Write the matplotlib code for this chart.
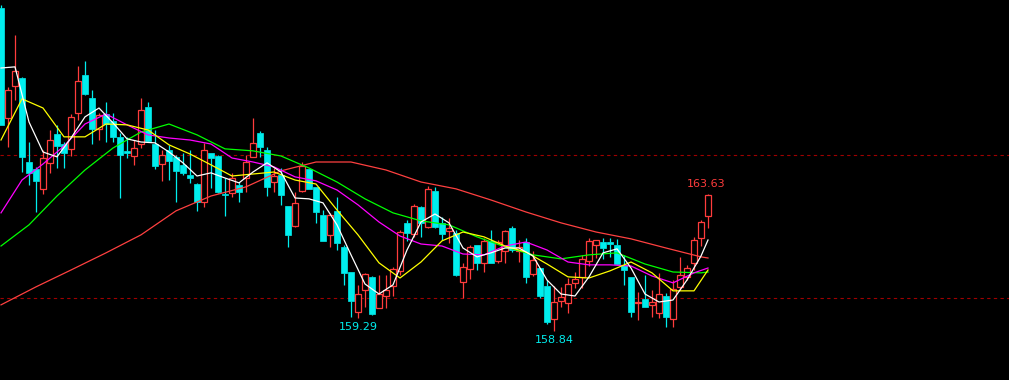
import matplotlib
matplotlib.use("Agg")
import matplotlib.pyplot as plt
import numpy as np

opens = [170.14,166.29,167.41,167.69,164.75,164.51,163.81,164.72,165.73,165.38,
         165.21,166.47,167.80,166.99,165.91,166.43,166.19,165.63,165.14,164.96,
         165.38,166.68,165.38,164.68,165.17,164.93,164.65,164.30,163.98,163.35,
         165.07,164.96,163.63,163.67,163.95,164.19,164.93,165.77,165.17,164.05,
         164.30,163.21,162.51,163.74,164.51,163.88,162.90,162.20,163.04,161.78,
         160.90,159.50,160.27,160.73,159.64,160.06,160.41,160.94,162.62,162.23,
         163.18,162.48,163.74,162.62,162.34,162.27,160.55,161.01,161.85,161.22,
         161.99,161.29,161.64,162.44,161.64,161.95,160.83,161.04,160.41,159.26,
         159.89,159.82,160.52,160.73,161.29,161.85,161.95,161.95,161.85,161.15,
         160.73,159.82,159.96,159.75,159.47,160.06,159.26,160.38,160.73,161.22,
         162.09,162.86]
highs = [170.25,167.38,169.20,167.73,165.45,164.58,165.17,165.87,166.05,165.45,
         166.43,168.11,168.29,167.27,166.47,166.85,166.47,165.77,165.63,165.52,
         166.99,166.85,165.87,165.17,165.35,165.00,165.07,165.17,164.02,165.42,
         165.07,165.00,164.19,164.37,164.05,165.00,166.29,165.84,165.28,164.54,
         164.54,163.21,163.70,164.75,164.51,163.88,163.07,162.97,163.53,161.85,
         160.90,160.45,160.87,160.76,160.80,160.80,161.08,162.37,162.72,163.28,
         163.21,163.91,163.88,162.83,162.79,162.37,161.22,161.85,161.85,162.09,
         162.37,162.02,162.37,162.51,162.02,162.09,161.64,161.04,160.62,160.41,
         160.38,160.69,160.90,161.50,162.09,162.02,162.09,162.09,162.05,161.50,
         160.73,160.20,160.80,160.27,160.87,160.17,160.62,161.43,161.15,162.13,
         162.72,163.63]
lows = [166.05,165.28,166.92,164.40,163.95,163.00,163.63,164.37,164.54,164.54,
        164.96,166.22,167.10,165.38,165.52,165.45,165.45,163.49,164.89,164.65,
        165.24,165.45,164.51,164.09,164.12,163.35,164.30,164.02,163.04,163.18,
        163.84,163.67,162.86,163.53,163.35,163.70,164.93,164.93,163.56,163.70,
        163.25,161.78,162.48,163.70,163.81,162.62,161.99,161.78,161.67,160.45,
        159.33,159.29,159.68,159.40,159.64,159.64,160.06,160.80,161.99,162.13,
        162.13,162.44,162.44,162.02,161.92,160.76,159.99,160.66,160.97,160.90,
        161.22,161.22,161.22,161.60,161.25,160.52,160.76,159.99,159.08,158.84,
        159.68,159.47,160.34,160.34,161.11,161.39,161.36,161.43,161.15,160.45,
        159.33,159.22,159.68,159.33,159.29,158.98,158.98,160.27,160.62,160.97,
        161.81,162.44]
closes = [166.05,167.27,167.94,164.93,164.37,164.09,164.89,165.52,165.31,165.07,
          166.33,167.59,167.13,165.91,166.40,166.08,165.63,165.00,165.07,165.24,
          166.57,165.49,164.61,165.00,164.79,164.44,164.37,164.19,163.35,165.17,
          164.89,163.70,163.60,164.19,163.70,164.75,165.42,165.28,163.88,164.26,
          163.60,162.20,163.32,164.61,163.81,163.00,161.99,162.90,161.92,160.87,
          159.89,160.13,160.83,159.43,160.13,160.27,161.01,162.30,162.27,163.21,
          162.62,163.81,162.48,162.23,162.44,160.80,161.08,161.78,161.22,161.99,
          161.22,161.95,162.34,161.67,161.78,160.73,161.32,160.06,159.15,159.85,
          160.03,160.48,160.66,161.36,161.99,162.02,161.74,161.88,161.18,160.97,
          159.50,159.85,159.68,159.85,160.13,159.33,160.31,160.80,161.04,162.02,
          162.65,163.60]

ma5_idx = [0,2,4,6,8,10,12,14,16,18,20,22,24,26,28,30,32,34,36,38,40,42,44,46,48,
           50,52,54,56,58,60,62,64,66,68,70,72,74,76,78,80,82,84,86,88,90,92,94,96,98,100,101]
ma5 = [168.04,168.08,166.15,165.10,164.93,165.59,166.33,166.64,166.12,165.56,165.45,
       165.42,165.10,164.72,164.26,164.37,164.19,164.02,164.40,164.72,164.40,163.49,
       163.46,163.32,162.55,161.50,160.48,160.13,160.45,161.67,162.65,162.93,162.62,
       161.74,161.43,161.57,161.74,161.74,161.46,160.62,160.13,160.06,160.73,161.57,
       161.71,161.04,160.13,159.85,159.92,160.62,161.46,162.02]

ma10_idx = [0,3,6,9,12,15,18,21,24,27,30,33,36,39,42,45,48,51,54,57,60,63,66,69,72,
            75,78,81,84,87,90,93,96,99,101]
ma10 = [165.52,166.96,166.64,165.63,165.63,166.08,166.05,165.87,165.35,165.03,164.65,
        164.26,164.33,164.40,164.12,163.98,163.07,162.20,161.22,160.69,161.25,161.99,
        162.30,162.13,161.81,161.60,161.18,160.73,160.69,160.94,161.25,160.87,160.24,
        160.24,160.97]

ma20_idx = ma10_idx
ma20 = [162.97,164.12,164.68,165.31,166.08,166.43,166.05,165.70,165.59,165.52,165.38,
        164.89,164.75,164.58,164.23,164.09,163.77,163.25,162.65,162.16,161.88,161.81,
        161.53,161.50,161.81,161.95,161.67,161.25,161.15,161.15,161.11,160.76,160.52,
        160.87,161.04]

ma30_idx = [0,4,8,12,16,20,24,28,32,36,40,44,48,52,56,60,64,68,72,76,80,84,88,92,96,100,101]
ma30 = [161.81,162.55,163.56,164.47,165.24,165.80,166.08,165.70,165.21,165.14,164.96,
        164.54,164.05,163.46,162.97,162.69,162.55,162.13,161.78,161.50,161.36,161.50,
        161.57,161.18,160.90,160.87,160.90]

ma60_idx = [0,5,10,15,20,25,30,35,40,45,50,55,60,65,70,75,80,85,90,95,100,101]
ma60 = [159.75,160.38,160.97,161.57,162.20,163.04,163.56,163.88,164.44,164.75,164.75,
        164.47,164.05,163.81,163.42,163.00,162.62,162.30,162.06,161.74,161.43,161.39]

ref_levels = [165.0, 160.0]
label_high_idx = 101
label_low_idx = [51, 79]

UP = '#FF3C3C'
DOWN = '#00EEEE'

W, H = 1009, 380
fig = plt.figure(figsize=(W/100, H/100), dpi=100, facecolor='black')
ax = fig.add_axes([0, 0, 1, 1])
ax.set_facecolor('black')
ax.set_axis_off()

for lv in ref_levels:
    ax.axhline(lv, color='#A00000', lw=0.8, ls=(0, (3, 3)), zorder=1)

n = len(opens)
x = np.arange(n)
bw = 0.72
for i in range(n):
    o, h, l, c = opens[i], highs[i], lows[i], closes[i]
    up = c >= o
    col = UP if up else DOWN
    top, bot = max(o, c), min(o, c)
    ax.plot([x[i], x[i]], [top, h], color=col, lw=0.9, zorder=2, solid_capstyle='butt')
    ax.plot([x[i], x[i]], [l, bot], color=col, lw=0.9, zorder=2, solid_capstyle='butt')
    hgt = max(top - bot, 0.03)
    if up:
        ax.bar(x[i], hgt, bottom=bot, width=bw, facecolor='black', edgecolor=col,
               linewidth=0.9, zorder=3)
    else:
        ax.bar(x[i], hgt, bottom=bot, width=bw, facecolor=col, edgecolor=col,
               linewidth=0.5, zorder=3)

ax.plot(ma60_idx, ma60, color='#FF4040', lw=0.9, zorder=4)
ax.plot(ma30_idx, ma30, color='#00FF00', lw=0.9, zorder=4)
ax.plot(ma20_idx, ma20, color='#FF00FF', lw=0.9, zorder=4)
ax.plot(ma10_idx, ma10, color='#FFFF00', lw=0.9, zorder=4)
ax.plot(ma5_idx, ma5, color='#FFFFFF', lw=0.9, zorder=4)

i = label_high_idx
ax.annotate(f"{highs[i]:.2f}", xy=(i, highs[i]), xytext=(-2, 10),
            textcoords='offset pixels', ha='center', va='center', color=UP, fontsize=8)
for i in label_low_idx:
    ax.annotate(f"{lows[i]:.2f}", xy=(i, lows[i]), xytext=(0, -9),
                textcoords='offset pixels', ha='center', va='center', color=DOWN, fontsize=8)

ax.set_xlim(-1/7, 1008/7)
ax.set_ylim(170.42 - 0.035*380, 170.42)

fig.savefig('out.png', dpi=100, facecolor='black')
